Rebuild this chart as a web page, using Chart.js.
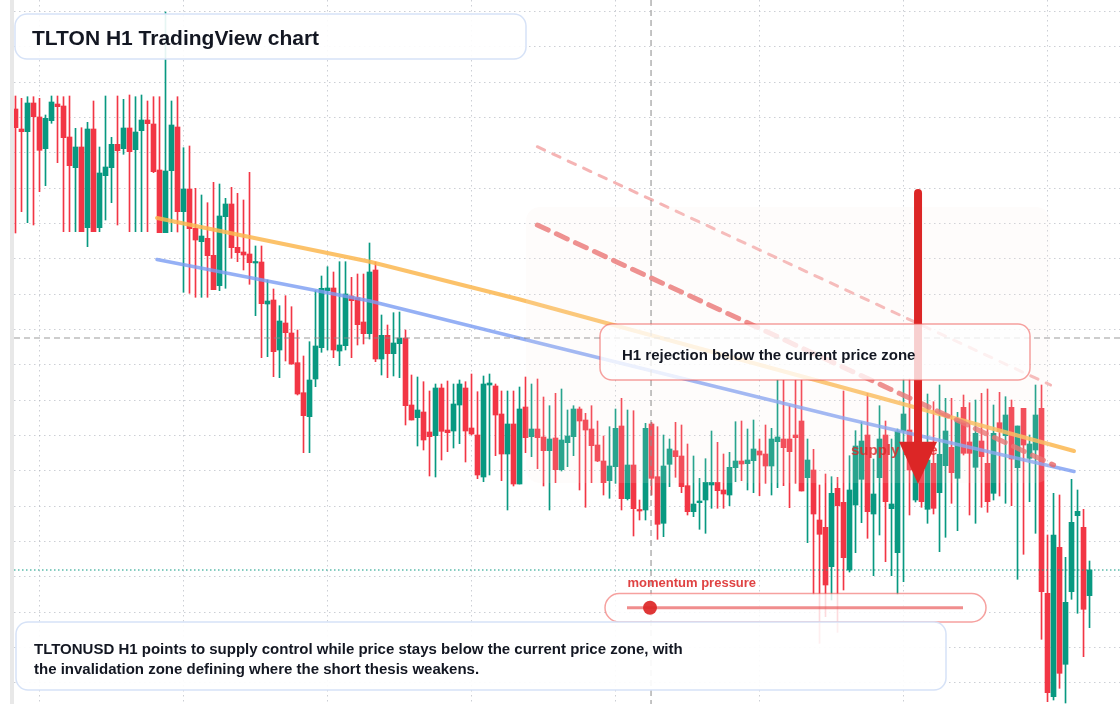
<!DOCTYPE html>
<html>
<head>
<meta charset="utf-8">
<title>TLTON H1 TradingView chart</title>
<script src="https://cdn.jsdelivr.net/npm/chart.js@4.4.1/dist/chart.umd.min.js"></script>
<style>
  html, body { margin: 0; padding: 0; background: #ffffff; }
  #chart { display: block; }
</style>
</head>
<body>
<canvas id="chart" width="1120" height="704"></canvas>
<script>
// hourly candles, price units (no axis labels shown)
const opens = [
  89.10, 87.10, 86.83, 89.70, 88.30, 85.13, 87.93, 89.60, 89.40, 86.30,
  83.23, 85.30, 77.23, 87.10, 77.23, 82.43, 83.23, 85.57, 85.13, 87.20,
  85.03, 86.93, 88.00, 87.60, 83.00, 76.73, 82.93, 87.30, 78.83, 81.10,
  77.17, 75.83, 76.17, 74.47, 71.43, 78.33, 79.60, 75.27, 74.80, 74.60,
  73.70, 73.80, 69.60, 70.00, 65.00, 67.70, 66.70, 63.73, 60.73, 58.33,
  62.10, 65.23, 70.93, 71.20, 64.90, 65.43, 70.40, 70.23, 67.80, 66.63,
  73.00, 64.10, 66.47, 64.63, 65.63, 66.20, 59.50, 58.23, 58.80, 56.80,
  56.43, 61.20, 57.00, 56.90, 59.50, 61.20, 57.20, 56.50, 52.30, 61.50,
  61.40, 58.60, 54.60, 57.60, 51.60, 59.30, 56.33, 57.10, 56.30, 54.93,
  56.20, 53.03, 55.73, 56.33, 59.10, 58.00, 57.10, 55.50, 53.90, 51.93,
  53.33, 57.40, 50.13, 53.50, 49.00, 49.00, 57.60, 52.33, 47.67, 53.57,
  54.93, 54.40, 51.43, 48.83, 49.73, 50.00, 51.50, 51.77, 51.00, 50.50,
  53.23, 53.90, 53.63, 53.93, 54.90, 54.60, 53.40, 55.83, 56.10, 56.10,
  56.50, 57.90, 52.23, 53.00, 48.00, 47.27, 43.33, 51.17, 49.77, 43.00,
  49.50, 52.07, 56.50, 48.60, 52.23, 56.50, 49.13, 44.73, 56.90, 57.00,
  50.00, 53.80, 49.07, 53.67, 50.73, 53.43, 55.27, 52.17, 59.27, 55.80,
  53.27, 55.90, 53.67, 50.67, 57.73, 56.43, 59.27, 53.23, 59.17, 54.17,
  55.00, 59.17, 40.67, 30.33, 45.27, 33.57, 40.83, 48.43, 47.27, 40.43
];
const highs = [
  90.40, 90.17, 90.33, 90.33, 90.17, 88.50, 90.40, 90.40, 90.33, 90.40,
  87.17, 87.23, 87.77, 89.90, 85.30, 90.40, 86.27, 90.40, 90.07, 90.50,
  90.33, 90.50, 89.90, 90.33, 90.33, 98.80, 89.90, 90.33, 85.23, 85.40,
  81.17, 80.50, 79.73, 81.77, 81.60, 80.17, 81.27, 80.67, 80.00, 82.77,
  75.40, 75.40, 72.00, 71.10, 69.43, 70.43, 69.33, 67.00, 64.40, 65.83,
  70.93, 72.40, 73.33, 72.80, 73.83, 73.83, 72.27, 72.60, 72.60, 75.70,
  73.80, 68.50, 67.50, 68.73, 68.80, 67.00, 62.50, 62.30, 61.83, 60.90,
  61.60, 61.60, 61.90, 61.60, 62.00, 61.83, 62.60, 60.83, 62.40, 62.60,
  61.60, 60.90, 60.90, 60.90, 61.30, 62.30, 61.60, 62.10, 60.30, 59.43,
  60.67, 61.10, 59.00, 59.43, 59.30, 58.67, 59.43, 57.90, 56.40, 57.33,
  59.10, 60.17, 59.00, 58.93, 50.00, 57.67, 57.77, 57.33, 56.50, 56.10,
  57.77, 57.50, 55.60, 54.40, 52.17, 54.13, 56.90, 55.77, 54.60, 54.77,
  57.83, 57.90, 57.10, 58.00, 56.10, 57.50, 57.17, 62.00, 62.00, 59.43,
  62.00, 62.00, 56.10, 55.07, 51.50, 52.60, 52.33, 52.27, 60.90, 54.43,
  56.93, 57.80, 60.67, 54.10, 59.43, 57.90, 56.10, 57.10, 62.10, 62.10,
  61.50, 55.33, 60.60, 59.83, 61.50, 60.17, 60.17, 58.77, 60.50, 59.73,
  60.00, 60.67, 61.10, 59.50, 60.77, 60.33, 60.00, 57.40, 59.17, 56.50,
  61.50, 61.50, 46.50, 50.67, 50.50, 44.27, 52.07, 51.00, 49.07, 43.90
];
const lows = [
  76.70, 78.83, 77.73, 77.50, 80.83, 81.43, 87.67, 83.73, 76.83, 76.83,
  76.83, 76.83, 75.33, 76.83, 76.83, 78.00, 79.73, 77.50, 84.57, 76.83,
  76.83, 76.83, 76.83, 82.73, 76.73, 76.73, 76.83, 76.80, 70.77, 70.67,
  70.27, 70.27, 70.27, 71.17, 70.93, 71.17, 74.17, 73.83, 73.00, 71.57,
  68.43, 64.23, 64.33, 62.33, 62.23, 63.90, 63.57, 60.50, 54.73, 54.73,
  61.33, 64.77, 65.00, 64.23, 63.43, 65.00, 64.23, 65.50, 65.60, 66.10,
  63.83, 62.50, 62.23, 62.40, 62.23, 57.50, 58.00, 55.40, 55.00, 52.40,
  52.30, 54.00, 54.83, 55.20, 55.63, 53.80, 56.50, 52.13, 51.83, 52.50,
  54.43, 51.93, 49.00, 51.40, 51.60, 54.73, 54.33, 53.13, 51.40, 49.00,
  51.73, 52.90, 53.33, 54.43, 51.00, 49.27, 51.73, 53.83, 50.50, 50.17,
  51.67, 49.00, 50.00, 46.40, 48.00, 48.00, 50.50, 46.07, 46.33, 51.33,
  52.27, 50.73, 48.50, 48.33, 47.07, 46.67, 49.17, 49.17, 49.17, 49.43,
  51.83, 51.93, 51.00, 50.73, 50.43, 51.67, 50.50, 51.23, 51.43, 49.23,
  51.67, 50.90, 45.73, 40.57, 35.67, 38.33, 40.00, 36.77, 41.00, 42.80,
  44.73, 47.73, 46.17, 42.43, 46.50, 43.83, 42.43, 40.57, 41.83, 48.50,
  49.80, 49.27, 47.67, 48.60, 44.83, 46.27, 49.67, 46.93, 54.50, 48.50,
  47.67, 49.27, 48.77, 50.00, 50.40, 49.67, 49.43, 42.07, 44.57, 49.83,
  46.67, 36.07, 29.83, 30.00, 31.17, 29.70, 40.07, 38.67, 34.33, 37.23
];
const closes = [
  87.23, 86.83, 89.70, 88.33, 84.97, 88.17, 89.80, 89.33, 86.23, 83.43,
  85.30, 76.83, 87.10, 76.83, 82.70, 83.30, 85.57, 84.93, 87.20, 84.83,
  86.80, 88.00, 87.63, 82.83, 76.73, 82.90, 87.50, 78.83, 81.10, 77.13,
  76.00, 76.40, 74.43, 71.03, 78.40, 79.60, 75.23, 74.73, 74.50, 73.73,
  73.80, 69.63, 69.90, 64.83, 67.90, 66.73, 63.60, 60.60, 58.43, 62.00,
  65.40, 71.17, 71.20, 65.00, 65.50, 70.60, 69.93, 67.53, 66.63, 72.80,
  64.10, 66.47, 64.63, 65.70, 66.20, 59.43, 58.00, 59.00, 56.00, 56.33,
  61.20, 56.87, 56.73, 59.60, 61.60, 56.90, 56.60, 52.50, 61.60, 61.70,
  58.50, 54.60, 57.60, 51.60, 59.10, 56.23, 57.10, 56.23, 54.93, 56.10,
  53.03, 56.00, 56.40, 59.10, 57.90, 57.00, 55.43, 53.90, 51.73, 53.40,
  57.17, 50.13, 53.50, 49.13, 48.90, 57.17, 52.17, 47.57, 53.40, 55.10,
  54.33, 51.33, 48.83, 49.60, 49.90, 51.77, 51.77, 50.93, 50.60, 53.27,
  53.90, 53.60, 54.00, 55.10, 54.50, 53.40, 56.10, 56.30, 55.23, 54.83,
  56.23, 50.90, 54.00, 48.60, 46.57, 41.50, 50.67, 49.43, 44.23, 51.00,
  55.40, 55.90, 48.83, 50.60, 56.10, 49.83, 49.60, 56.90, 58.60, 53.00,
  53.00, 49.83, 54.00, 49.17, 54.57, 56.90, 52.73, 58.07, 54.67, 54.67,
  56.67, 54.33, 49.83, 56.67, 56.83, 58.50, 54.10, 57.40, 55.50, 55.60,
  58.50, 40.83, 30.73, 46.50, 32.67, 39.77, 47.77, 48.87, 39.07, 43.00
];

// drawn studies, in candle index / price units
const orangeTrend = [{x: 23.58, y: 78.20}, {x: 59.08, y: 73.83}, {x: 84.08, y: 70.05}, {x: 137.42, y: 61.33}, {x: 176.42, y: 54.90}];
const blueTrend = [{x: 23.58, y: 74.05}, {x: 59.08, y: 69.90}, {x: 89.08, y: 65.43}, {x: 137.42, y: 58.27}, {x: 176.42, y: 52.85}];
const upperChannel = [{x: 86.97, y: 85.33}, {x: 172.5, y: 61.50}];
const lowerChannel = [{x: 86.97, y: 77.50}, {x: 173.0, y: 53.50}];
const supplyZone = {x1: 85.08, x2: 172.42, y1: 79.3, y2: 51.7};
const arrowPts = {x: 150.42, top: 80.7, base: 55.83, tip: 51.6};
const crossX = 105.92;
const crossY = 66.2;
const lastPriceY = 43.0;
const supplyLabel = {x: 139.25, y: 54.5};

// grid positions
const xGrid = [4.08, 28.08, 52.08, 76.08, 100.08, 124.08, 148.08, 172.08];
const yGrid = [98.87, 95.34, 91.80, 88.27, 84.73, 81.20, 77.66, 74.13, 70.59, 67.06,
  63.52, 59.99, 56.45, 52.92, 49.38, 45.85, 42.31, 38.78, 35.24, 31.71];

const GREEN = '#089981';
const RED = '#f23645';
const TEXT = '#131722';
const FONT = '"Liberation Sans", Arial, sans-serif';

const candleColors = opens.map((o, i) => (closes[i] >= o ? GREEN : RED));
const wicks = highs.map((h, i) => ({x: i, y: [lows[i], h]}));
const bodies = opens.map((o, i) => ({x: i, y: [o, closes[i]]}));

const roundBox = (ctx, x, y, w, h, r, fill, stroke) => {
  ctx.beginPath();
  ctx.roundRect(x, y, w, h, r);
  ctx.fillStyle = fill;
  ctx.fill();
  ctx.lineWidth = 1.5;
  ctx.strokeStyle = stroke;
  ctx.stroke();
};

const overlay = {
  id: 'overlay',
  beforeDraw(chart) {
    const ctx = chart.ctx;
    ctx.save();
    ctx.fillStyle = '#e8e8e8';
    ctx.fillRect(10, 0, 4, chart.height);
    ctx.restore();
  },
  afterDatasetsDraw(chart) {
    const {ctx, scales: {x, y}, chartArea} = chart;
    ctx.save();

    // supply zone shading
    const zx = x.getPixelForValue(supplyZone.x1);
    const zy = y.getPixelForValue(supplyZone.y1);
    ctx.beginPath();
    ctx.roundRect(zx, zy, x.getPixelForValue(supplyZone.x2) - zx, y.getPixelForValue(supplyZone.y2) - zy, 14);
    ctx.fillStyle = 'rgba(250,236,228,0.14)';
    ctx.fill();

    ctx.font = 'bold 15px ' + FONT;
    ctx.fillStyle = 'rgba(220,38,38,0.8)';
    ctx.fillText('supply zone', x.getPixelForValue(supplyLabel.x), y.getPixelForValue(supplyLabel.y));

    // crosshair + last price line
    ctx.lineWidth = 1.2;
    ctx.strokeStyle = 'rgba(140,140,140,0.85)';
    ctx.setLineDash([6, 4]);
    ctx.beginPath();
    ctx.moveTo(chartArea.left, y.getPixelForValue(crossY));
    ctx.lineTo(chartArea.right, y.getPixelForValue(crossY));
    ctx.moveTo(x.getPixelForValue(crossX), chartArea.top);
    ctx.lineTo(x.getPixelForValue(crossX), chartArea.bottom);
    ctx.stroke();
    ctx.strokeStyle = GREEN;
    ctx.setLineDash([1.5, 2.5]);
    ctx.beginPath();
    ctx.moveTo(chartArea.left, y.getPixelForValue(lastPriceY));
    ctx.lineTo(chartArea.right, y.getPixelForValue(lastPriceY));
    ctx.stroke();
    ctx.setLineDash([]);

    // arrow
    const ax = x.getPixelForValue(arrowPts.x);
    const base = y.getPixelForValue(arrowPts.base);
    ctx.strokeStyle = '#dc2626';
    ctx.fillStyle = '#dc2626';
    ctx.lineWidth = 8;
    ctx.lineCap = 'round';
    ctx.beginPath();
    ctx.moveTo(ax, y.getPixelForValue(arrowPts.top));
    ctx.lineTo(ax, base + 2);
    ctx.stroke();
    ctx.beginPath();
    ctx.moveTo(ax - 19, base);
    ctx.lineTo(ax + 19, base);
    ctx.lineTo(ax, y.getPixelForValue(arrowPts.tip));
    ctx.closePath();
    ctx.fill();
    ctx.lineCap = 'butt';

    // rejection callout
    roundBox(ctx, 600, 324, 430, 56, 12, 'rgba(255,255,255,0.78)', 'rgba(239,83,80,0.55)');
    ctx.font = 'bold 15px ' + FONT;
    ctx.fillStyle = TEXT;
    ctx.fillText('H1 rejection below the current price zone', 622, 359.5);

    // momentum gauge
    ctx.font = 'bold 13px ' + FONT;
    ctx.fillStyle = 'rgba(220,45,45,0.9)';
    ctx.fillText('momentum pressure', 627.5, 587);
    roundBox(ctx, 605, 593.5, 381, 28.5, 14.25, 'rgba(255,255,255,0.82)', 'rgba(239,83,80,0.55)');
    ctx.strokeStyle = 'rgba(232,80,80,0.65)';
    ctx.lineWidth = 3;
    ctx.beginPath();
    ctx.moveTo(627, 607.7);
    ctx.lineTo(963, 607.7);
    ctx.stroke();
    ctx.fillStyle = 'rgba(220,38,38,0.92)';
    ctx.beginPath();
    ctx.arc(650, 607.7, 7, 0, Math.PI * 2);
    ctx.fill();

    // note box
    roundBox(ctx, 16, 622, 930, 68, 12, 'rgba(255,255,255,0.92)', '#d6e2f7');
    ctx.font = 'bold 15px ' + FONT;
    ctx.fillStyle = TEXT;
    ctx.fillText('TLTONUSD H1 points to supply control while price stays below the current price zone, with', 34, 654);
    ctx.fillText('the invalidation zone defining where the short thesis weakens.', 34, 673.5);

    // title
    roundBox(ctx, 15, 14, 511, 45, 12, 'rgba(255,255,255,0.9)', '#d6e2f7');
    ctx.font = 'bold 21px ' + FONT;
    ctx.fillStyle = TEXT;
    ctx.fillText('TLTON H1 TradingView chart', 32, 44.5);

    ctx.restore();
  }
};

const gridScale = (min, max, ticks) => ({
  type: 'linear',
  min: min,
  max: max,
  offset: false,
  beginAtZero: false,
  ticks: {display: false},
  grid: {color: 'rgba(170,175,185,0.6)', lineWidth: 1, drawTicks: false, offset: false},
  border: {display: false, dash: [1.5, 3.5]},
  afterBuildTicks: (axis) => { axis.ticks = ticks.map((v) => ({value: v})); }
});

const lineSet = (data, color, width, dash, order) => ({
  type: 'line',
  data: data,
  borderColor: color,
  borderWidth: width,
  borderDash: dash,
  borderCapStyle: 'round',
  pointRadius: 0,
  fill: false,
  order: order
});

const chart = new Chart(document.getElementById('chart'), {
  type: 'bar',
  data: {
    datasets: [
      {data: wicks, backgroundColor: candleColors, barThickness: 1, grouped: false, borderWidth: 0, order: 6},
      {data: bodies, backgroundColor: candleColors, barThickness: 5, minBarLength: 1.5, grouped: false, borderWidth: 0, order: 5},
      lineSet(orangeTrend, 'rgba(251,183,80,0.85)', 4, [], 4),
      lineSet(blueTrend, 'rgba(122,156,242,0.8)', 3.5, [], 3),
      lineSet(upperChannel, 'rgba(240,140,140,0.65)', 3, [8, 9], 2),
      lineSet(lowerChannel, 'rgba(232,100,100,0.8)', 5, [12, 9], 1)
    ]
  },
  options: {
    responsive: false,
    animation: false,
    devicePixelRatio: 1,
    layout: {padding: {left: 14, right: 0, top: 0, bottom: 0}},
    plugins: {legend: {display: false}, tooltip: {enabled: false}},
    scales: {
      x: gridScale(-0.25, 184.08, xGrid),
      y: gridScale(29.6, 100, yGrid)
    }
  },
  plugins: [overlay]
});
</script>
</body>
</html>
